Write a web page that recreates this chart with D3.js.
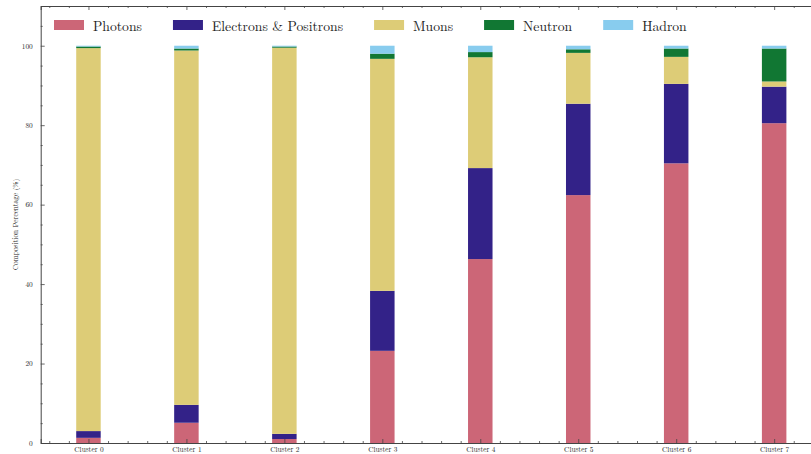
<!DOCTYPE html>
<html>
<head>
<meta charset="utf-8">
<script src="https://cdn.jsdelivr.net/npm/d3@7"></script>
<style>
  html, body { margin: 0; padding: 0; background: #fff; }
  svg { display: block; }
</style>
</head>
<body>
<svg id="chart" width="811" height="454"></svg>
<script>
const categories = ["Cluster 0", "Cluster 1", "Cluster 2", "Cluster 3", "Cluster 4", "Cluster 5", "Cluster 6", "Cluster 7"];
const seriesNames = ["Photons", "Electrons & Positrons", "Muons", "Neutron", "Hadron"];
const photons   = [1.3, 5.1, 1.0, 23.2, 46.3, 62.4, 70.4, 80.5];
const electrons = [1.7, 4.5, 1.3, 15.1, 22.9, 23.0, 20.0, 9.2];
const muons     = [96.4, 89.2, 97.2, 58.4, 27.9, 12.8, 6.8, 1.3];
const neutron   = [0.4, 0.5, 0.3, 1.3, 1.3, 0.9, 2.1, 8.3];
const hadron    = [0.2, 0.7, 0.2, 2.0, 1.6, 0.9, 0.7, 0.7];
const colors    = ["#CC6677", "#332288", "#DDCC77", "#117733", "#88CCEE"];
const yTicks    = [0, 20, 40, 60, 80, 100];

(function () {
const FONT = "Latin Modern Roman, Liberation Serif, serif";
const seriesValues = [photons, electrons, muons, neutron, hadron];
const rows = categories.map((c, i) => {
  const r = { cat: c, idx: i };
  seriesNames.forEach((s, k) => r[s] = seriesValues[k][i]);
  return r;
});

const svg = d3.select("#chart");
const pLeft = 40.7, pRight = 821.9, pTop = 6, pBottom = 443;
const x = d3.scaleLinear().domain([-0.4875, categories.length - 1 + 0.4875]).range([pLeft, pRight]);
const y = d3.scaleLinear().domain([0, 110]).range([pBottom, pTop]);
const barW = x(0.125) - x(-0.125);

const stack = d3.stack().keys(seriesNames)(rows);
const color = d3.scaleOrdinal().domain(seriesNames).range(colors);

svg.append("g").selectAll("g").data(stack).join("g")
  .attr("fill", d => color(d.key))
  .selectAll("rect").data(d => d).join("rect")
  .attr("x", d => x(d.data.idx) - barW / 2)
  .attr("width", barW)
  .attr("y", d => y(d[1]))
  .attr("height", d => y(d[0]) - y(d[1]));

const axisColor = "#444";
function styleAxis(g) {
  g.attr("font-family", FONT);
  g.selectAll("path.domain").attr("stroke", axisColor).attr("stroke-width", 1);
  g.selectAll(".tick line").attr("stroke", axisColor).attr("stroke-width", 0.8);
  g.selectAll(".tick text").attr("font-family", FONT).attr("font-size", 7.3).attr("fill", "#222");
}
const nMax = categories.length - 1;
const xMinor = d3.range(-2, nMax * 5 + 3).map(v => v / 5)
  .filter(v => Math.abs(v - Math.round(v)) > 1e-6 && v > -0.4875 && v < nMax + 0.4875);
const yMinor = d3.range(0, 111, 5).filter(v => v % 20 !== 0);

svg.append("g").attr("transform", `translate(0,${pBottom})`)
  .call(d3.axisBottom(x).tickValues(d3.range(categories.length)).tickFormat(i => categories[i]).tickSize(-4).tickPadding(4))
  .call(styleAxis);
svg.append("g").attr("transform", `translate(0,${pBottom})`)
  .call(d3.axisBottom(x).tickValues(xMinor).tickFormat("").tickSize(-2))
  .call(g => g.select(".domain").remove()).call(styleAxis);
svg.append("g").attr("transform", `translate(0,${pTop})`)
  .call(d3.axisTop(x).tickValues(d3.range(categories.length)).tickFormat("").tickSize(-4))
  .call(styleAxis);
svg.append("g").attr("transform", `translate(0,${pTop})`)
  .call(d3.axisTop(x).tickValues(xMinor).tickFormat("").tickSize(-2))
  .call(g => g.select(".domain").remove()).call(styleAxis);
svg.append("g").attr("transform", `translate(${pLeft},0)`)
  .call(d3.axisLeft(y).tickValues(yTicks).tickFormat(d3.format("d")).tickSize(-4).tickPadding(8))
  .call(styleAxis);
svg.append("g").attr("transform", `translate(${pLeft},0)`)
  .call(d3.axisLeft(y).tickValues(yMinor).tickFormat("").tickSize(-2))
  .call(g => g.select(".domain").remove()).call(styleAxis);
svg.append("g").attr("transform", `translate(${pRight},0)`)
  .call(d3.axisRight(y).tickValues(yTicks).tickFormat("").tickSize(-4))
  .call(styleAxis);

svg.append("text")
  .attr("transform", `translate(16,${(pTop + pBottom) / 2}) rotate(-90)`)
  .attr("text-anchor", "middle")
  .attr("dominant-baseline", "middle")
  .attr("font-family", FONT)
  .attr("font-size", 7.3)
  .attr("fill", "#222")
  .text("Composition Percentage (%)");

const legend = svg.append("g");
let lx = 54;
seriesNames.forEach((s, k) => {
  legend.append("rect").attr("x", lx).attr("y", 20).attr("width", 30).attr("height", 10).attr("fill", colors[k]);
  const t = legend.append("text").attr("x", lx + 39).attr("y", 25)
    .attr("dominant-baseline", "central")
    .attr("font-family", FONT).attr("font-size", 13.7).attr("fill", "#222").text(s);
  lx += 39 + t.node().getComputedTextLength() + 31;
});
})();
</script>
</body>
</html>
